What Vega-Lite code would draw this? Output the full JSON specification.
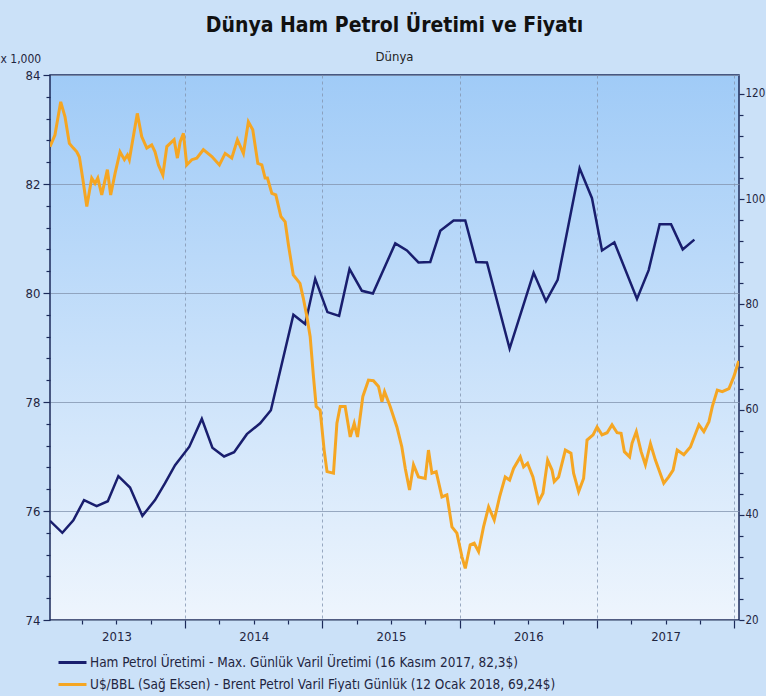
{
  "$schema": "https://vega.github.io/schema/vega-lite/v6.json",
  "width": 689,
  "height": 545,
  "autosize": {"type": "none"},
  "padding": {"left": 50, "top": 75, "right": 27, "bottom": 76},
  "background": "#cbe1f8",
  "title": {
    "text": "Dünya Ham Petrol Üretimi ve Fiyatı",
    "subtitle": "Dünya",
    "font": "DejaVu Sans Condensed, Liberation Sans, sans-serif",
    "fontSize": 21,
    "fontWeight": "bold",
    "color": "#111111",
    "subtitleFont": "DejaVu Sans Condensed, Liberation Sans, sans-serif",
    "subtitleFontSize": 13,
    "subtitleColor": "#222222",
    "subtitlePadding": 15,
    "offset": -12,
    "anchor": "middle"
  },
  "config": {
    "font": "DejaVu Sans Condensed, Liberation Sans, sans-serif",
    "view": {
      "fill": {"gradient": "linear", "x1": 0, "y1": 0, "x2": 0, "y2": 1, "stops": [{"offset": 0, "color": "#a0cbf7"}, {"offset": 1, "color": "#eef5fd"}]},
      "stroke": "#1c2a5a",
      "strokeWidth": 1.5
    }
  },
  "datasets": {
    "uretim": [
      {"t": 2013.016, "v": 75.82, "s": "uretim"},
      {"t": 2013.106, "v": 75.60, "s": "uretim"},
      {"t": 2013.186, "v": 75.83, "s": "uretim"},
      {"t": 2013.264, "v": 76.20, "s": "uretim"},
      {"t": 2013.356, "v": 76.09, "s": "uretim"},
      {"t": 2013.437, "v": 76.18, "s": "uretim"},
      {"t": 2013.514, "v": 76.64, "s": "uretim"},
      {"t": 2013.599, "v": 76.43, "s": "uretim"},
      {"t": 2013.689, "v": 75.91, "s": "uretim"},
      {"t": 2013.781, "v": 76.20, "s": "uretim"},
      {"t": 2013.854, "v": 76.51, "s": "uretim"},
      {"t": 2013.927, "v": 76.84, "s": "uretim"},
      {"t": 2014.031, "v": 77.18, "s": "uretim"},
      {"t": 2014.122, "v": 77.69, "s": "uretim"},
      {"t": 2014.199, "v": 77.16, "s": "uretim"},
      {"t": 2014.284, "v": 77.00, "s": "uretim"},
      {"t": 2014.357, "v": 77.08, "s": "uretim"},
      {"t": 2014.450, "v": 77.41, "s": "uretim"},
      {"t": 2014.547, "v": 77.61, "s": "uretim"},
      {"t": 2014.625, "v": 77.85, "s": "uretim"},
      {"t": 2014.789, "v": 79.60, "s": "uretim"},
      {"t": 2014.875, "v": 79.43, "s": "uretim"},
      {"t": 2014.948, "v": 80.26, "s": "uretim"},
      {"t": 2015.037, "v": 79.65, "s": "uretim"},
      {"t": 2015.122, "v": 79.58, "s": "uretim"},
      {"t": 2015.198, "v": 80.44, "s": "uretim"},
      {"t": 2015.288, "v": 80.04, "s": "uretim"},
      {"t": 2015.368, "v": 79.99, "s": "uretim"},
      {"t": 2015.531, "v": 80.91, "s": "uretim"},
      {"t": 2015.616, "v": 80.78, "s": "uretim"},
      {"t": 2015.700, "v": 80.56, "s": "uretim"},
      {"t": 2015.786, "v": 80.57, "s": "uretim"},
      {"t": 2015.859, "v": 81.14, "s": "uretim"},
      {"t": 2015.956, "v": 81.33, "s": "uretim"},
      {"t": 2016.041, "v": 81.33, "s": "uretim"},
      {"t": 2016.121, "v": 80.57, "s": "uretim"},
      {"t": 2016.199, "v": 80.56, "s": "uretim"},
      {"t": 2016.364, "v": 78.98, "s": "uretim"},
      {"t": 2016.539, "v": 80.37, "s": "uretim"},
      {"t": 2016.629, "v": 79.85, "s": "uretim"},
      {"t": 2016.714, "v": 80.24, "s": "uretim"},
      {"t": 2016.874, "v": 82.29, "s": "uretim"},
      {"t": 2016.964, "v": 81.74, "s": "uretim"},
      {"t": 2017.037, "v": 80.78, "s": "uretim"},
      {"t": 2017.127, "v": 80.93, "s": "uretim"},
      {"t": 2017.292, "v": 79.89, "s": "uretim"},
      {"t": 2017.377, "v": 80.42, "s": "uretim"},
      {"t": 2017.457, "v": 81.26, "s": "uretim"},
      {"t": 2017.540, "v": 81.26, "s": "uretim"},
      {"t": 2017.625, "v": 80.80, "s": "uretim"},
      {"t": 2017.710, "v": 80.98, "s": "uretim"}
    ],
    "brent": [
      {"t": 2013.016, "v": 109.98, "s": "brent"},
      {"t": 2013.052, "v": 112.2, "s": "brent"},
      {"t": 2013.094, "v": 118.5, "s": "brent"},
      {"t": 2013.125, "v": 115.7, "s": "brent"},
      {"t": 2013.157, "v": 110.6, "s": "brent"},
      {"t": 2013.186, "v": 109.7, "s": "brent"},
      {"t": 2013.211, "v": 109.0, "s": "brent"},
      {"t": 2013.230, "v": 108.0, "s": "brent"},
      {"t": 2013.254, "v": 104.0, "s": "brent"},
      {"t": 2013.284, "v": 98.6, "s": "brent"},
      {"t": 2013.320, "v": 104.0, "s": "brent"},
      {"t": 2013.344, "v": 103.0, "s": "brent"},
      {"t": 2013.364, "v": 104.0, "s": "brent"},
      {"t": 2013.393, "v": 100.8, "s": "brent"},
      {"t": 2013.434, "v": 105.6, "s": "brent"},
      {"t": 2013.458, "v": 100.8, "s": "brent"},
      {"t": 2013.490, "v": 104.9, "s": "brent"},
      {"t": 2013.526, "v": 109.0, "s": "brent"},
      {"t": 2013.558, "v": 107.5, "s": "brent"},
      {"t": 2013.580, "v": 108.4, "s": "brent"},
      {"t": 2013.594, "v": 107.5, "s": "brent"},
      {"t": 2013.619, "v": 111.3, "s": "brent"},
      {"t": 2013.652, "v": 116.3, "s": "brent"},
      {"t": 2013.684, "v": 111.9, "s": "brent"},
      {"t": 2013.721, "v": 109.7, "s": "brent"},
      {"t": 2013.757, "v": 110.3, "s": "brent"},
      {"t": 2013.781, "v": 109.0, "s": "brent"},
      {"t": 2013.806, "v": 106.5, "s": "brent"},
      {"t": 2013.838, "v": 104.6, "s": "brent"},
      {"t": 2013.867, "v": 110.0, "s": "brent"},
      {"t": 2013.903, "v": 110.9, "s": "brent"},
      {"t": 2013.920, "v": 111.3, "s": "brent"},
      {"t": 2013.944, "v": 107.8, "s": "brent"},
      {"t": 2013.964, "v": 110.9, "s": "brent"},
      {"t": 2013.988, "v": 112.5, "s": "brent"},
      {"t": 2014.012, "v": 106.5, "s": "brent"},
      {"t": 2014.049, "v": 107.5, "s": "brent"},
      {"t": 2014.085, "v": 107.8, "s": "brent"},
      {"t": 2014.133, "v": 109.4, "s": "brent"},
      {"t": 2014.195, "v": 108.1, "s": "brent"},
      {"t": 2014.250, "v": 106.5, "s": "brent"},
      {"t": 2014.292, "v": 108.7, "s": "brent"},
      {"t": 2014.340, "v": 107.8, "s": "brent"},
      {"t": 2014.381, "v": 111.3, "s": "brent"},
      {"t": 2014.425, "v": 108.7, "s": "brent"},
      {"t": 2014.461, "v": 114.7, "s": "brent"},
      {"t": 2014.493, "v": 113.2, "s": "brent"},
      {"t": 2014.530, "v": 106.8, "s": "brent"},
      {"t": 2014.559, "v": 106.5, "s": "brent"},
      {"t": 2014.583, "v": 104.0, "s": "brent"},
      {"t": 2014.600, "v": 104.0, "s": "brent"},
      {"t": 2014.632, "v": 101.1, "s": "brent"},
      {"t": 2014.661, "v": 100.8, "s": "brent"},
      {"t": 2014.698, "v": 96.7, "s": "brent"},
      {"t": 2014.729, "v": 95.7, "s": "brent"},
      {"t": 2014.753, "v": 91.3, "s": "brent"},
      {"t": 2014.788, "v": 85.6, "s": "brent"},
      {"t": 2014.837, "v": 84.0, "s": "brent"},
      {"t": 2014.861, "v": 81.2, "s": "brent"},
      {"t": 2014.887, "v": 77.7, "s": "brent"},
      {"t": 2014.911, "v": 73.9, "s": "brent"},
      {"t": 2014.935, "v": 66.3, "s": "brent"},
      {"t": 2014.955, "v": 60.6, "s": "brent"},
      {"t": 2014.984, "v": 59.9, "s": "brent"},
      {"t": 2015.013, "v": 52.3, "s": "brent"},
      {"t": 2015.034, "v": 48.2, "s": "brent"},
      {"t": 2015.081, "v": 47.9, "s": "brent"},
      {"t": 2015.106, "v": 57.4, "s": "brent"},
      {"t": 2015.130, "v": 60.6, "s": "brent"},
      {"t": 2015.166, "v": 60.6, "s": "brent"},
      {"t": 2015.203, "v": 54.8, "s": "brent"},
      {"t": 2015.232, "v": 57.4, "s": "brent"},
      {"t": 2015.256, "v": 54.8, "s": "brent"},
      {"t": 2015.295, "v": 62.5, "s": "brent"},
      {"t": 2015.336, "v": 65.6, "s": "brent"},
      {"t": 2015.372, "v": 65.5, "s": "brent"},
      {"t": 2015.409, "v": 64.4, "s": "brent"},
      {"t": 2015.434, "v": 61.5, "s": "brent"},
      {"t": 2015.453, "v": 63.4, "s": "brent"},
      {"t": 2015.494, "v": 60.6, "s": "brent"},
      {"t": 2015.543, "v": 56.7, "s": "brent"},
      {"t": 2015.579, "v": 52.9, "s": "brent"},
      {"t": 2015.604, "v": 48.8, "s": "brent"},
      {"t": 2015.635, "v": 44.7, "s": "brent"},
      {"t": 2015.664, "v": 49.5, "s": "brent"},
      {"t": 2015.700, "v": 47.2, "s": "brent"},
      {"t": 2015.749, "v": 46.9, "s": "brent"},
      {"t": 2015.773, "v": 52.3, "s": "brent"},
      {"t": 2015.798, "v": 47.9, "s": "brent"},
      {"t": 2015.829, "v": 48.2, "s": "brent"},
      {"t": 2015.871, "v": 43.4, "s": "brent"},
      {"t": 2015.907, "v": 43.8, "s": "brent"},
      {"t": 2015.944, "v": 37.7, "s": "brent"},
      {"t": 2015.980, "v": 36.5, "s": "brent"},
      {"t": 2016.017, "v": 32.0, "s": "brent"},
      {"t": 2016.041, "v": 29.8, "s": "brent"},
      {"t": 2016.077, "v": 34.3, "s": "brent"},
      {"t": 2016.106, "v": 34.6, "s": "brent"},
      {"t": 2016.138, "v": 33.0, "s": "brent"},
      {"t": 2016.174, "v": 37.7, "s": "brent"},
      {"t": 2016.211, "v": 41.5, "s": "brent"},
      {"t": 2016.252, "v": 39.0, "s": "brent"},
      {"t": 2016.291, "v": 43.4, "s": "brent"},
      {"t": 2016.332, "v": 47.2, "s": "brent"},
      {"t": 2016.364, "v": 46.6, "s": "brent"},
      {"t": 2016.393, "v": 48.8, "s": "brent"},
      {"t": 2016.442, "v": 51.0, "s": "brent"},
      {"t": 2016.466, "v": 49.1, "s": "brent"},
      {"t": 2016.495, "v": 49.8, "s": "brent"},
      {"t": 2016.534, "v": 47.2, "s": "brent"},
      {"t": 2016.575, "v": 42.5, "s": "brent"},
      {"t": 2016.607, "v": 44.1, "s": "brent"},
      {"t": 2016.641, "v": 50.4, "s": "brent"},
      {"t": 2016.673, "v": 48.5, "s": "brent"},
      {"t": 2016.689, "v": 46.3, "s": "brent"},
      {"t": 2016.721, "v": 47.2, "s": "brent"},
      {"t": 2016.770, "v": 52.3, "s": "brent"},
      {"t": 2016.811, "v": 51.7, "s": "brent"},
      {"t": 2016.830, "v": 47.9, "s": "brent"},
      {"t": 2016.867, "v": 44.4, "s": "brent"},
      {"t": 2016.903, "v": 46.9, "s": "brent"},
      {"t": 2016.928, "v": 54.2, "s": "brent"},
      {"t": 2016.972, "v": 55.2, "s": "brent"},
      {"t": 2017.001, "v": 56.7, "s": "brent"},
      {"t": 2017.037, "v": 55.2, "s": "brent"},
      {"t": 2017.074, "v": 55.6, "s": "brent"},
      {"t": 2017.110, "v": 57.1, "s": "brent"},
      {"t": 2017.147, "v": 55.6, "s": "brent"},
      {"t": 2017.176, "v": 55.5, "s": "brent"},
      {"t": 2017.200, "v": 52.0, "s": "brent"},
      {"t": 2017.238, "v": 51.0, "s": "brent"},
      {"t": 2017.256, "v": 53.6, "s": "brent"},
      {"t": 2017.287, "v": 55.8, "s": "brent"},
      {"t": 2017.322, "v": 52.0, "s": "brent"},
      {"t": 2017.353, "v": 49.5, "s": "brent"},
      {"t": 2017.390, "v": 53.5, "s": "brent"},
      {"t": 2017.426, "v": 50.4, "s": "brent"},
      {"t": 2017.487, "v": 46.0, "s": "brent"},
      {"t": 2017.523, "v": 47.2, "s": "brent"},
      {"t": 2017.555, "v": 48.5, "s": "brent"},
      {"t": 2017.585, "v": 52.3, "s": "brent"},
      {"t": 2017.633, "v": 51.4, "s": "brent"},
      {"t": 2017.681, "v": 52.9, "s": "brent"},
      {"t": 2017.743, "v": 57.1, "s": "brent"},
      {"t": 2017.779, "v": 55.8, "s": "brent"},
      {"t": 2017.816, "v": 57.7, "s": "brent"},
      {"t": 2017.841, "v": 60.6, "s": "brent"},
      {"t": 2017.877, "v": 63.7, "s": "brent"},
      {"t": 2017.913, "v": 63.4, "s": "brent"},
      {"t": 2017.962, "v": 64.0, "s": "brent"},
      {"t": 2017.998, "v": 66.3, "s": "brent"},
      {"t": 2018.033, "v": 69.24, "s": "brent"}
    ]
  },
  "encoding": {
    "x": {
      "field": "t",
      "type": "quantitative",
      "scale": {"domain": [2013.016, 2018.035], "nice": false, "zero": false},
      "axis": {
        "orient": "bottom",
        "title": null,
        "domain": false,
        "values": [2013.25, 2013.5, 2013.75, 2014, 2014.25, 2014.5, 2014.75, 2015, 2015.25, 2015.5, 2015.75, 2016, 2016.25, 2016.5, 2016.75, 2017, 2017.25, 2017.5, 2017.75, 2018],
        "labelExpr": "datum.value % 1 === 0.5 ? '' + floor(datum.value) : ''",
        "labelFontSize": 13,
        "labelColor": "#1f2540",
        "labelPadding": 6,
        "tickColor": "#1c2a5a",
        "tickWidth": 1.2,
        "tickSize": {"condition": {"test": "datum.value % 1 === 0", "value": 8}, "value": 4},
        "grid": true,
        "gridColor": "#8496b0",
        "gridDash": [3, 3],
        "gridWidth": 0.8,
        "gridOpacity": {"condition": {"test": "datum.value % 1 === 0", "value": 1}, "value": 0}
      }
    }
  },
  "layer": [
    {
      "data": {"name": "uretim"},
      "mark": {"type": "line", "strokeWidth": 2.5, "clip": true},
      "encoding": {
        "y": {
          "field": "v",
          "type": "quantitative",
          "scale": {"domain": [74, 84], "nice": false, "zero": false},
          "axis": {
            "orient": "left",
            "values": [74, 74.4, 74.8, 75.2, 75.6, 76, 76.4, 76.8, 77.2, 77.6, 78, 78.4, 78.8, 79.2, 79.6, 80, 80.4, 80.8, 81.2, 81.6, 82, 82.4, 82.8, 83.2, 83.6, 84],
            "labelExpr": "datum.value % 2 === 0 ? '' + datum.value : ''",
            "labelFontSize": 13,
            "labelColor": "#1f2540",
            "labelPadding": 3,
            "domain": false,
            "tickColor": "#1c2a5a",
            "tickWidth": 1.2,
            "tickSize": {"condition": {"test": "datum.value % 2 === 0", "value": 7}, "value": 4},
            "grid": true,
            "gridColor": "#8496b0",
            "gridWidth": 0.8,
            "gridOpacity": {"condition": {"test": "datum.value % 2 === 0", "value": 1}, "value": 0},
            "title": "x 1,000",
            "titleAngle": 0,
            "titleAlign": "left",
            "titleBaseline": "middle",
            "titleX": -50,
            "titleY": -17,
            "titleFontSize": 12,
            "titleFontWeight": "normal",
            "titleColor": "#1f2540"
          }
        },
        "color": {
          "field": "s",
          "type": "nominal",
          "scale": {"domain": ["uretim", "brent"], "range": ["#191e6e", "#f5a623"]},
          "legend": {
            "orient": "none",
            "legendX": 7,
            "legendY": 572,
            "direction": "vertical",
            "title": null,
            "symbolType": "stroke",
            "symbolSize": 784,
            "symbolStrokeWidth": 3,
            "labelFontSize": 13.5,
            "labelColor": "#1f2540",
            "labelLimit": 700,
            "labelOffset": 2,
            "rowPadding": -7,
            "padding": 0,
            "labelExpr": "datum.value === 'uretim' ? 'Ham Petrol Üretimi - Max. Günlük Varil Üretimi (16 Kasım 2017, 82,3$)' : 'U$/BBL (Sağ Eksen) - Brent Petrol Varil Fiyatı Günlük (12 Ocak 2018, 69,24$)'"
          }
        }
      }
    },
    {
      "data": {"name": "brent"},
      "mark": {"type": "line", "strokeWidth": 3, "clip": true},
      "encoding": {
        "y": {
          "field": "v",
          "type": "quantitative",
          "scale": {"domain": [20, 123.6], "nice": false, "zero": false},
          "axis": {
            "orient": "right",
            "values": [20, 24, 28, 32, 36, 40, 44, 48, 52, 56, 60, 64, 68, 72, 76, 80, 84, 88, 92, 96, 100, 104, 108, 112, 116, 120],
            "labelExpr": "datum.value % 20 === 0 ? '' + datum.value : ''",
            "labelFontSize": 11.5,
            "labelColor": "#1f2540",
            "labelPadding": 1,
            "domain": false,
            "grid": false,
            "tickColor": "#1c2a5a",
            "tickWidth": 1.2,
            "tickSize": {"condition": {"test": "datum.value % 20 === 0", "value": 5}, "value": 4},
            "title": null
          }
        },
        "color": {
          "field": "s",
          "type": "nominal",
          "scale": {"domain": ["uretim", "brent"], "range": ["#191e6e", "#f5a623"]}
        }
      }
    }
  ],
  "resolve": {"scale": {"y": "independent"}}
}
